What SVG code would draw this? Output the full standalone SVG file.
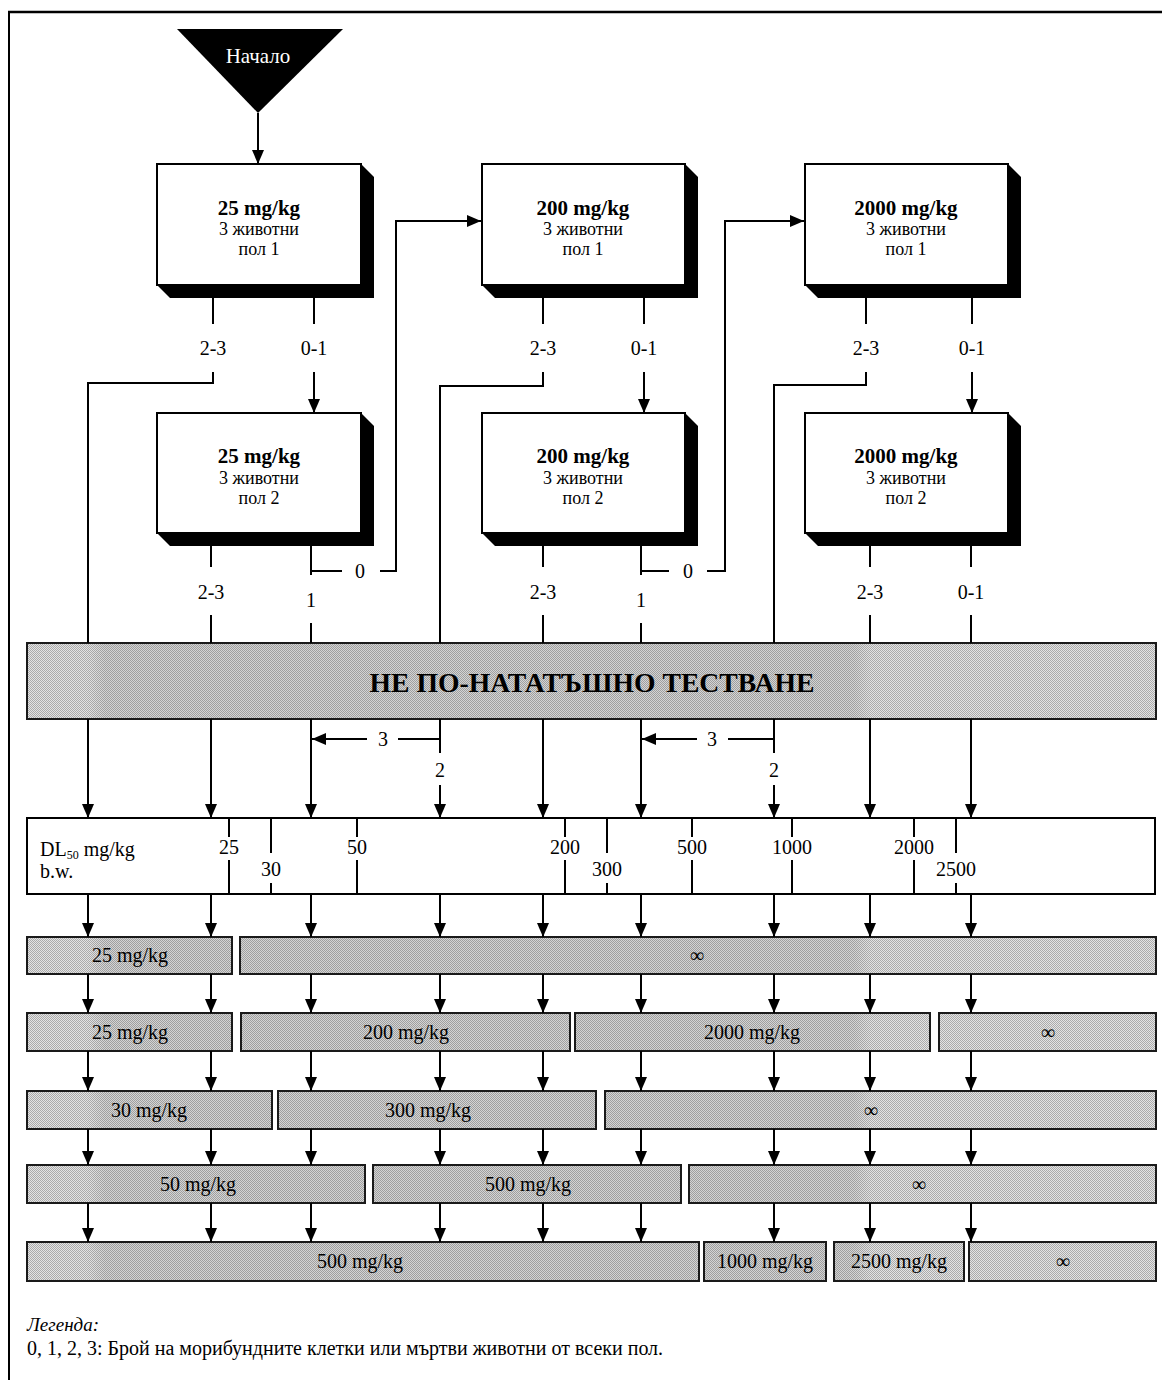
<svg xmlns="http://www.w3.org/2000/svg" width="1162" height="1380" viewBox="0 0 1162 1380">
  <defs>
    <style>
      text { font-family: "Liberation Serif", "DejaVu Serif", serif; fill: #000; }
      .ln { fill: none; stroke: #000; stroke-width: 2; }
      .arr { marker-end: url(#ah); }
      .lbl { font-size: 20px; text-anchor: middle; }
      .box { fill: #fff; stroke: #000; stroke-width: 2; }
      .shadow { fill: #000; }
      .shade { fill: url(#shadeFill); stroke: #1a1a1a; stroke-width: 2; }
      .title { font-size: 21px; font-weight: bold; text-anchor: middle; }
      .sub { font-size: 18px; text-anchor: middle; }
      .cell { font-size: 20px; text-anchor: middle; }
      .tick { font-size: 20px; text-anchor: middle; }
    </style>
    <marker id="ah" viewBox="0 0 14 12" refX="14" refY="6" markerWidth="14" markerHeight="12" orient="auto" markerUnits="userSpaceOnUse">
      <path d="M0,0 L14,6 L0,12 Z" fill="#000"/>
    </marker>
    <!-- halftone screen: tone ramp plus a 2px checker -->
    <linearGradient id="tone" x1="0" y1="0" x2="1162" y2="0" gradientUnits="userSpaceOnUse">
      <stop offset="0" stop-color="#e4e4e4"/>
      <stop offset="0.075" stop-color="#e4e4e4"/>
      <stop offset="0.09" stop-color="#d4d4d4"/>
      <stop offset="0.735" stop-color="#d4d4d4"/>
      <stop offset="0.75" stop-color="#e4e4e4"/>
      <stop offset="1" stop-color="#e4e4e4"/>
    </linearGradient>
    <pattern id="checker" x="0" y="0" width="2" height="2" patternUnits="userSpaceOnUse">
      <rect x="0" y="0" width="1" height="1" fill="#000" fill-opacity="0.25"/>
      <rect x="1" y="1" width="1" height="1" fill="#000" fill-opacity="0.25"/>
    </pattern>
    <pattern id="shadeFill" x="0" y="0" width="1162" height="2" patternUnits="userSpaceOnUse">
      <rect x="0" y="0" width="1162" height="2" fill="url(#tone)"/>
      <rect x="0" y="0" width="1162" height="2" fill="url(#checker)"/>
    </pattern>
  </defs>

  <rect x="0" y="0" width="1162" height="1380" fill="#fff"/>

  <!-- page frame -->
  <g id="frame">
    <path d="M8,12 H1162" stroke="#000" stroke-width="2.5" fill="none"/>
    <path d="M9,11 V1380" stroke="#000" stroke-width="2" fill="none"/>
  </g>

  <!-- start -->
  <g id="start">
    <polygon points="177,29 343,29 258,113" fill="#000"/>
    <text x="258" y="63" style="font-size:21px; fill:#fff; text-anchor:middle">Начало</text>
  </g>

  <!-- dose boxes -->
  <g id="dose25-sex1">
    <polygon class="shadow" points="361,164 374,177 374,298 170,298 157,285"/>
    <rect class="box" x="157" y="164" width="204" height="121"/>
    <text class="title" x="259" y="215">25 mg/kg</text>
    <text class="sub" x="259" y="235">3 животни</text>
    <text class="sub" x="259" y="255">пол 1</text>
  </g>
  <g id="dose200-sex1">
    <polygon class="shadow" points="685,164 698,177 698,298 495,298 482,285"/>
    <rect class="box" x="482" y="164" width="203" height="121"/>
    <text class="title" x="583" y="215">200 mg/kg</text>
    <text class="sub" x="583" y="235">3 животни</text>
    <text class="sub" x="583" y="255">пол 1</text>
  </g>
  <g id="dose2000-sex1">
    <polygon class="shadow" points="1008,164 1021,177 1021,298 818,298 805,285"/>
    <rect class="box" x="805" y="164" width="203" height="121"/>
    <text class="title" x="906" y="215">2000 mg/kg</text>
    <text class="sub" x="906" y="235">3 животни</text>
    <text class="sub" x="906" y="255">пол 1</text>
  </g>
  <g id="dose25-sex2">
    <polygon class="shadow" points="361,413 374,426 374,546 170,546 157,533"/>
    <rect class="box" x="157" y="413" width="204" height="120"/>
    <text class="title" x="259" y="463">25 mg/kg</text>
    <text class="sub" x="259" y="484">3 животни</text>
    <text class="sub" x="259" y="504">пол 2</text>
  </g>
  <g id="dose200-sex2">
    <polygon class="shadow" points="685,413 698,426 698,546 495,546 482,533"/>
    <rect class="box" x="482" y="413" width="203" height="120"/>
    <text class="title" x="583" y="463">200 mg/kg</text>
    <text class="sub" x="583" y="484">3 животни</text>
    <text class="sub" x="583" y="504">пол 2</text>
  </g>
  <g id="dose2000-sex2">
    <polygon class="shadow" points="1008,413 1021,426 1021,546 818,546 805,533"/>
    <rect class="box" x="805" y="413" width="203" height="120"/>
    <text class="title" x="906" y="463">2000 mg/kg</text>
    <text class="sub" x="906" y="484">3 животни</text>
    <text class="sub" x="906" y="504">пол 2</text>
  </g>

  <!-- stop band -->
  <g id="no-further-testing">
    <rect class="shade" x="27" y="643" width="1129" height="76" stroke-width="1.5"/>
    <text x="592" y="692" textLength="445" lengthAdjust="spacingAndGlyphs" style="font-size:28px; font-weight:bold; text-anchor:middle">НЕ ПО-НАТАТЪШНО ТЕСТВАНЕ</text>
  </g>

  <!-- LD50 scale -->
  <g id="ld50-scale">
    <rect x="27" y="818" width="1128" height="76" fill="#fff" stroke="#000" stroke-width="2"/>
    <text x="40" y="856" style="font-size:20px">DL<tspan dy="3" style="font-size:12px">50</tspan><tspan dy="-3">  mg/kg</tspan></text>
    <text x="40" y="878" style="font-size:20px">b.w.</text>
    <g class="ln">
      <path d="M229,818 V837 M229,860 V894"/>
      <path d="M271,818 V853 M271,883 V894"/>
      <path d="M357,818 V837 M357,860 V894"/>
      <path d="M565,818 V837 M565,860 V894"/>
      <path d="M607,818 V853 M607,883 V894"/>
      <path d="M692,818 V837 M692,860 V894"/>
      <path d="M792,818 V837 M792,860 V894"/>
      <path d="M914,818 V837 M914,860 V894"/>
      <path d="M956,818 V853 M956,883 V894"/>
    </g>
    <text class="tick" x="229" y="854">25</text>
    <text class="tick" x="271" y="876">30</text>
    <text class="tick" x="357" y="854">50</text>
    <text class="tick" x="565" y="854">200</text>
    <text class="tick" x="607" y="876">300</text>
    <text class="tick" x="692" y="854">500</text>
    <text class="tick" x="792" y="854">1000</text>
    <text class="tick" x="914" y="854">2000</text>
    <text class="tick" x="956" y="876">2500</text>
  </g>

  <!-- result rows -->
  <g id="rowA-25"><rect class="shade" x="27" y="937" width="205" height="37"/><text class="cell" x="130" y="962">25 mg/kg</text></g>
  <g id="rowA-inf"><rect class="shade" x="240" y="937" width="916" height="37"/><text class="cell" x="697" y="962">∞</text></g>

  <g id="rowB-25"><rect class="shade" x="27" y="1013" width="205" height="38"/><text class="cell" x="130" y="1039">25 mg/kg</text></g>
  <g id="rowB-200"><rect class="shade" x="241" y="1013" width="329" height="38"/><text class="cell" x="406" y="1039">200 mg/kg</text></g>
  <g id="rowB-2000"><rect class="shade" x="575" y="1013" width="355" height="38"/><text class="cell" x="752" y="1039">2000 mg/kg</text></g>
  <g id="rowB-inf"><rect class="shade" x="939" y="1013" width="217" height="38"/><text class="cell" x="1048" y="1039">∞</text></g>

  <g id="rowC-30"><rect class="shade" x="27" y="1091" width="245" height="38"/><text class="cell" x="149" y="1117">30 mg/kg</text></g>
  <g id="rowC-300"><rect class="shade" x="278" y="1091" width="318" height="38"/><text class="cell" x="428" y="1117">300 mg/kg</text></g>
  <g id="rowC-inf"><rect class="shade" x="605" y="1091" width="551" height="38"/><text class="cell" x="871" y="1117">∞</text></g>

  <g id="rowD-50"><rect class="shade" x="27" y="1165" width="338" height="38"/><text class="cell" x="198" y="1191">50 mg/kg</text></g>
  <g id="rowD-500"><rect class="shade" x="373" y="1165" width="308" height="38"/><text class="cell" x="528" y="1191">500 mg/kg</text></g>
  <g id="rowD-inf"><rect class="shade" x="689" y="1165" width="467" height="38"/><text class="cell" x="919" y="1191">∞</text></g>

  <g id="rowE-500"><rect class="shade" x="27" y="1242" width="672" height="39"/><text class="cell" x="360" y="1268">500 mg/kg</text></g>
  <g id="rowE-1000"><rect class="shade" x="704" y="1242" width="122" height="39"/><text class="cell" x="765" y="1268">1000 mg/kg</text></g>
  <g id="rowE-2500"><rect class="shade" x="834" y="1242" width="130" height="39"/><text class="cell" x="899" y="1268">2500 mg/kg</text></g>
  <g id="rowE-inf"><rect class="shade" x="969" y="1242" width="187" height="39"/><text class="cell" x="1063" y="1268">∞</text></g>

  <!-- connectors -->
  <g id="connectors">
    <path class="ln arr" d="M258,113 V164"/>

    <!-- 25 mg/kg, sex 1 -->
    <path class="ln" d="M213,298 V324"/>
    <path class="ln" d="M213,372 V383 H88 V643"/>
    <path class="ln" d="M314,298 V324"/>
    <path class="ln arr" d="M314,372 V413"/>
    <text class="lbl" x="213" y="355">2-3</text>
    <text class="lbl" x="314" y="355">0-1</text>

    <!-- 25 mg/kg, sex 2 -->
    <path class="ln" d="M211,546 V567 M211,615 V643"/>
    <text class="lbl" x="211" y="599">2-3</text>
    <path class="ln" d="M311,546 V575 M311,571 H342 M311,623 V643"/>
    <path class="ln arr" d="M380,571 H396 V221 H481"/>
    <text class="lbl" x="360" y="578">0</text>
    <text class="lbl" x="311" y="607">1</text>

    <!-- 200 mg/kg, sex 1 -->
    <path class="ln" d="M543,298 V324"/>
    <path class="ln" d="M543,372 V386 H440 V643"/>
    <path class="ln" d="M644,298 V324"/>
    <path class="ln arr" d="M644,372 V413"/>
    <text class="lbl" x="543" y="355">2-3</text>
    <text class="lbl" x="644" y="355">0-1</text>

    <!-- 200 mg/kg, sex 2 -->
    <path class="ln" d="M543,546 V567 M543,615 V643"/>
    <text class="lbl" x="543" y="599">2-3</text>
    <path class="ln" d="M641,546 V575 M641,571 H669 M641,623 V643"/>
    <path class="ln arr" d="M707,571 H725 V221 H804"/>
    <text class="lbl" x="688" y="578">0</text>
    <text class="lbl" x="641" y="607">1</text>

    <!-- 2000 mg/kg, sex 1 -->
    <path class="ln" d="M866,298 V324"/>
    <path class="ln" d="M866,372 V385 H774 V643"/>
    <path class="ln" d="M972,298 V324"/>
    <path class="ln arr" d="M972,372 V413"/>
    <text class="lbl" x="866" y="355">2-3</text>
    <text class="lbl" x="972" y="355">0-1</text>

    <!-- 2000 mg/kg, sex 2 -->
    <path class="ln" d="M870,546 V567 M870,615 V643"/>
    <path class="ln" d="M971,546 V567 M971,615 V643"/>
    <text class="lbl" x="870" y="599">2-3</text>
    <text class="lbl" x="971" y="599">0-1</text>

    <!-- band to scale -->
    <path class="ln arr" d="M88,719 V818"/>
    <path class="ln arr" d="M211,719 V818"/>
    <path class="ln arr" d="M311,719 V818"/>
    <path class="ln" d="M440,719 V753"/>
    <path class="ln arr" d="M440,785 V818"/>
    <path class="ln" d="M440,739 H398"/>
    <path class="ln arr" d="M367,739 H312"/>
    <text class="lbl" x="383" y="746">3</text>
    <text class="lbl" x="440" y="777">2</text>
    <path class="ln arr" d="M543,719 V818"/>
    <path class="ln arr" d="M641,719 V818"/>
    <path class="ln" d="M774,719 V753"/>
    <path class="ln arr" d="M774,785 V818"/>
    <path class="ln" d="M774,739 H728"/>
    <path class="ln arr" d="M697,739 H642"/>
    <text class="lbl" x="712" y="746">3</text>
    <text class="lbl" x="774" y="777">2</text>
    <path class="ln arr" d="M870,719 V818"/>
    <path class="ln arr" d="M971,719 V818"/>

    <!-- scale and result rows -->
    <g class="ln arr">
      <path d="M88,894 V937"/><path d="M211,894 V937"/><path d="M311,894 V937"/>
      <path d="M440,894 V937"/><path d="M543,894 V937"/><path d="M641,894 V937"/>
      <path d="M774,894 V937"/><path d="M870,894 V937"/><path d="M971,894 V937"/>

      <path d="M88,974 V1013"/><path d="M211,974 V1013"/><path d="M311,974 V1013"/>
      <path d="M440,974 V1013"/><path d="M543,974 V1013"/><path d="M641,974 V1013"/>
      <path d="M774,974 V1013"/><path d="M870,974 V1013"/><path d="M971,974 V1013"/>

      <path d="M88,1051 V1091"/><path d="M211,1051 V1091"/><path d="M311,1051 V1091"/>
      <path d="M440,1051 V1091"/><path d="M543,1051 V1091"/><path d="M641,1051 V1091"/>
      <path d="M774,1051 V1091"/><path d="M870,1051 V1091"/><path d="M971,1051 V1091"/>

      <path d="M88,1129 V1165"/><path d="M211,1129 V1165"/><path d="M311,1129 V1165"/>
      <path d="M440,1129 V1165"/><path d="M543,1129 V1165"/><path d="M641,1129 V1165"/>
      <path d="M774,1129 V1165"/><path d="M870,1129 V1165"/><path d="M971,1129 V1165"/>

      <path d="M88,1203 V1242"/><path d="M211,1203 V1242"/><path d="M311,1203 V1242"/>
      <path d="M440,1203 V1242"/><path d="M543,1203 V1242"/><path d="M641,1203 V1242"/>
      <path d="M774,1203 V1242"/><path d="M870,1203 V1242"/><path d="M971,1203 V1242"/>
    </g>
  </g>

  <!-- key -->
  <g id="legend">
    <text x="27" y="1331" style="font-size:19px; font-style:italic">Легенда:</text>
    <text x="27" y="1355" style="font-size:20px">0, 1, 2, 3: Брой на морибундните клетки или мъртви животни от всеки пол.</text>
  </g>
</svg>
